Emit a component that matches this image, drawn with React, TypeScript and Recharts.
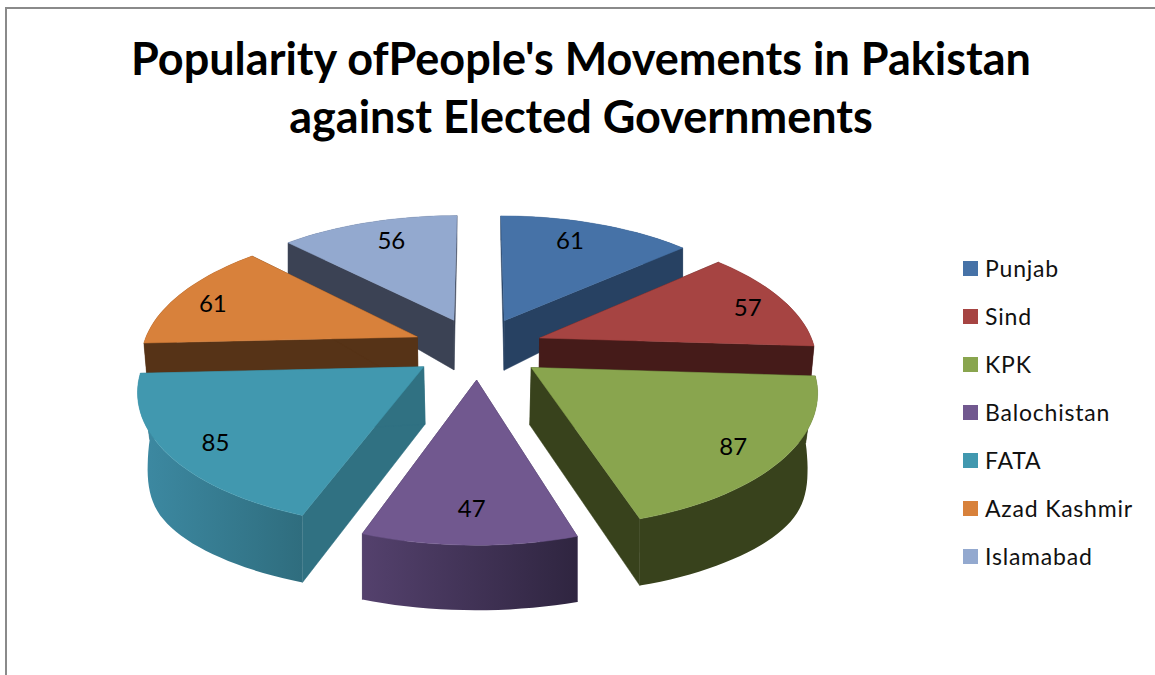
import { PieChart, Pie, Legend } from 'recharts';

const REGIONS = ['Punjab', 'Sind', 'KPK', 'Balochistan', 'FATA', 'Azad Kashmir', 'Islamabad'];
const POPULARITY = [61, 57, 87, 47, 85, 61, 56];
const TITLE_LINES = ["Popularity ofPeople's Movements in Pakistan", 'against Elected Governments'];

const TOP_COLORS = ['#4672a7', '#a64442', '#89a54e', '#71588f', '#4198af', '#d8813b', '#93a9cf'];
const SIDE_COLORS = ['#274162', '#451b19', '#38421c', '#3d2f55', '#307182', '#563317', '#3b4254'];
const RIM_LEFT = ['#274162', '#451b19', '#38421c', '#54416d', '#3d8aa3', '#563317', '#3b4254'];
const RIM_RIGHT = ['#274162', '#451b19', '#38421c', '#2f2540', '#2f6d7e', '#563317', '#3b4254'];

// small hand placement of the value labels on each slice, in px
const LABEL_DX = [-12, 8, 0, 1, -3, -9, 9];
const LABEL_DY = [0, 1, 4, -3, 4, 1, 1];

// painter's order, back of the pie first
const DRAW_ORDER = ['Punjab', 'Islamabad', 'Sind', 'Azad Kashmir', 'KPK', 'FATA', 'Balochistan'];

const chartData = REGIONS.map((name, i) => ({ name, value: POPULARITY[i], fill: TOP_COLORS[i] }));

const CX = 478;
const CY = 348;
const EXPLODE = 0.24;
const RAD = Math.PI / 180;

// perspective projection of the upper face of the pie, x/y in pie radii
function projectTop(x: number, y: number) {
  const s = 1 / (1 + 0.154 * y);
  return [CX + 275 * x * s, CY - 128.7 * y * s];
}

// lower face sits further from the viewer, so it pulls in a little at the sides
function projectBottom(x: number, y: number, onRim: boolean) {
  const top = projectTop(x, y);
  const pull = 1 - 0.03 * Math.exp(-(((y + 0.3) / 0.4) ** 2));
  const sag = onRim ? 12 * Math.exp(-(((y + 0.45) / 0.4) ** 2)) : 0;
  return [CX + pull * (top[0] - CX), 402.5 - 150 * y + 14 * y * y + sag];
}

const toPath = (pts: number[][]) =>
  'M' + pts.map((p) => `${p[0].toFixed(1)},${p[1].toFixed(1)}`).join('L') + 'Z';

function Slice3D(props: any) {
  const { startAngle, endAngle, midAngle, name, value, layer } = props;
  if (name !== layer) return <g />;
  const i = REGIONS.indexOf(name);
  const ox = EXPLODE * Math.cos(midAngle * RAD);
  const oy = EXPLODE * Math.sin(midAngle * RAD);

  const arc: number[][] = [];
  const steps = Math.ceil(Math.abs(endAngle - startAngle) / 2);
  for (let k = 0; k <= steps; k++) {
    const a = (startAngle + ((endAngle - startAngle) * k) / steps) * RAD;
    arc.push([ox + Math.cos(a), oy + Math.sin(a)]);
  }
  const top = arc.map((p) => projectTop(p[0], p[1]));
  const bottom = arc.map((p) => projectBottom(p[0], p[1], true));
  const apexTop = projectTop(ox, oy);
  const apexBottom = projectBottom(ox, oy, false);

  const last = arc.length - 1;
  const label = projectTop(ox + 0.82 * Math.cos(midAngle * RAD), oy + 0.82 * Math.sin(midAngle * RAD));
  const side = SIDE_COLORS[i];
  const rimId = `rim-${i}`;

  return (
    <g>
      <defs>
        <linearGradient id={rimId} x1="0" y1="0" x2="1" y2="0">
          <stop offset="0" stopColor={RIM_LEFT[i]} />
          <stop offset="1" stopColor={RIM_RIGHT[i]} />
        </linearGradient>
      </defs>
      <path d={toPath([apexTop, top[0], bottom[0], apexBottom])} fill={side} stroke={side} strokeWidth={0.5} />
      <path d={toPath([apexTop, top[last], bottom[last], apexBottom])} fill={side} stroke={side} strokeWidth={0.5} />
      <path d={toPath([...top, ...[...bottom].reverse()])} fill={`url(#${rimId})`} />
      <path d={toPath([apexTop, ...top])} fill={TOP_COLORS[i]} stroke={TOP_COLORS[i]} strokeWidth={0.5} />
      <text
        x={label[0] + LABEL_DX[i]}
        y={label[1] + LABEL_DY[i]}
        textAnchor="middle"
        dominantBaseline="central"
        fontFamily="Lato, sans-serif"
        fontSize={24}
        fill="#000"
      >
        {value}
      </text>
    </g>
  );
}

function LegendList() {
  return (
    <div>
      {REGIONS.map((name, i) => (
        <div key={name} style={{ display: 'flex', alignItems: 'center', height: 48 }}>
          <span style={{ width: 15, height: 15, background: TOP_COLORS[i], marginRight: 7 }} />
          <span style={{ fontSize: 23, letterSpacing: 0.8, color: '#111', fontFamily: 'Lato, sans-serif' }}>{name}</span>
        </div>
      ))}
    </div>
  );
}

export default function App() {
  return (
    <div style={{ position: 'absolute', left: 0, top: 0, width: 1155, height: 675, overflow: 'hidden', background: '#fff' }}>
      <div style={{ position: 'absolute', left: 5, top: 7, width: 1200, height: 720, borderTop: '2px solid #8a8a8a', borderLeft: '2px solid #8a8a8a' }} />
      <div
        style={{
          position: 'absolute',
          left: 0,
          top: 29,
          width: 1162,
          textAlign: 'center',
          fontFamily: 'Lato, sans-serif',
          fontWeight: 700,
          fontSize: 45,
          lineHeight: '58px',
          color: '#000',
          zIndex: 2,
        }}
      >
        {TITLE_LINES.map((line) => (
          <div key={line}>{line}</div>
        ))}
      </div>
      <PieChart width={1155} height={675} style={{ position: 'absolute', left: 0, top: 0 }}>
        {DRAW_ORDER.map((layer) => (
          <Pie
            key={layer}
            data={chartData}
            dataKey="value"
            nameKey="name"
            cx={CX}
            cy={CY}
            outerRadius={280}
            startAngle={90}
            endAngle={-270}
            stroke="none"
            legendType="none"
            isAnimationActive={false}
            shape={(p: any) => <Slice3D {...p} layer={layer} />}
          />
        ))}
        <Legend content={<LegendList />} wrapperStyle={{ position: 'absolute', left: 963, top: 244, width: 190, bottom: 'auto', right: 'auto' }} />
      </PieChart>
    </div>
  );
}
